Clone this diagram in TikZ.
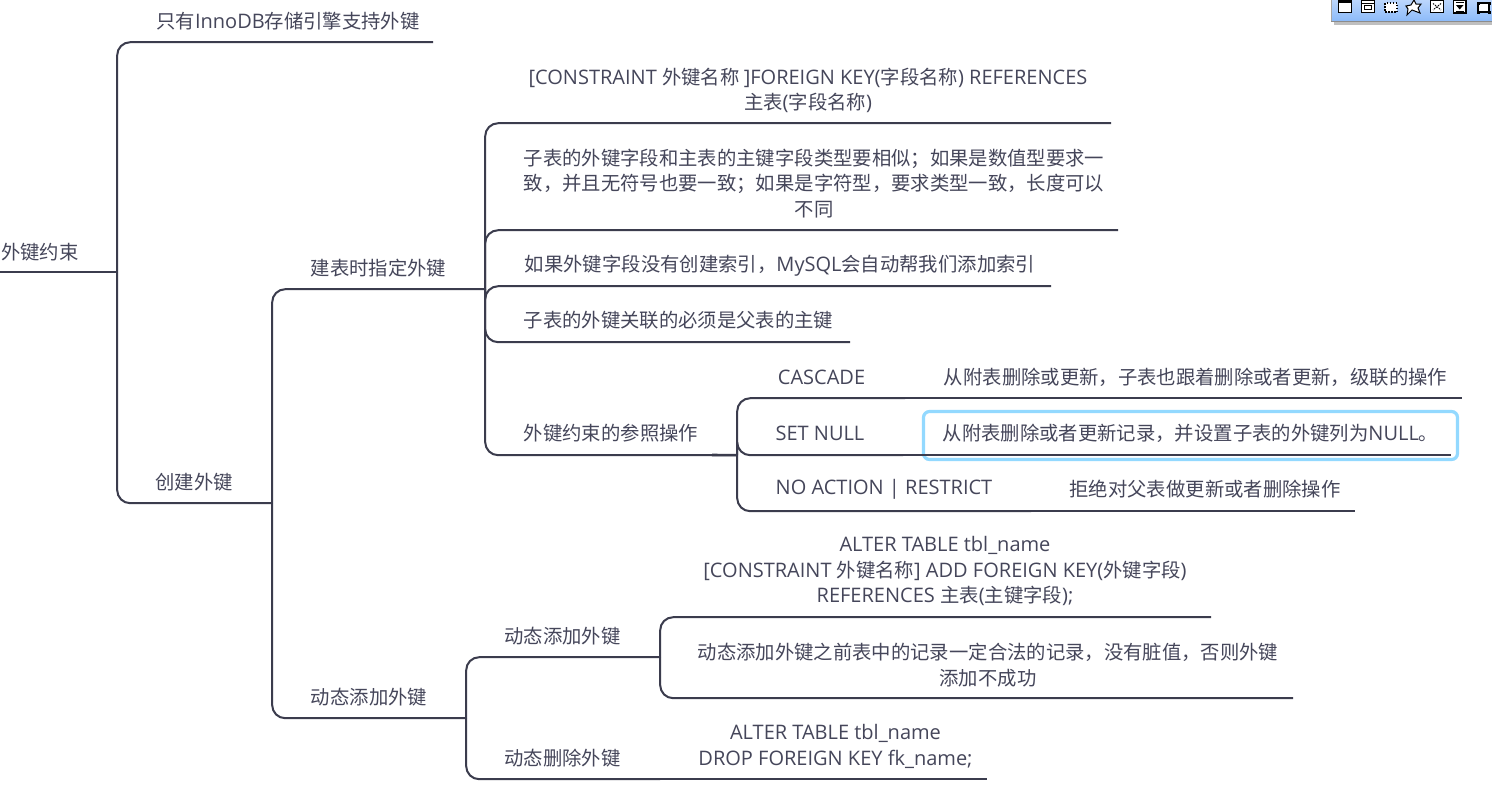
\documentclass[tikz,border=0pt]{standalone}
\usepackage{fontspec}
\setmainfont{Noto Sans CJK SC}
\newfontfamily\lafont{Open Sans}
\newcommand{\la}[1]{{\lafont\fontsize{20}{25.4}\selectfont #1}}
\definecolor{ink}{HTML}{3B3C4D}
\definecolor{txt}{HTML}{45465A}
\definecolor{hl}{HTML}{93D9FF}
\definecolor{tbTop}{HTML}{BBD6FC}
\definecolor{tbBot}{HTML}{8DBBF9}
\newcommand{\tp}[6]{%
  \pgfmathsetmacro{\tpw}{2*(#4-#2)}\pgfmathsetmacro{\tph}{2*(#5-#3)-1}%
  \node[topic,minimum width=\tpw pt,minimum height=\tph pt] (#1) at (#2,#3+0.5) {#6};}
\newcommand{\icon}[1]{\draw[black,line width=1.4pt,fill=white] (#1,0.7) rectangle (#1+13,12.7);}
\tikzset{
  topic/.style={inner sep=0pt,align=center,font=\fontsize{19.35}{25.4}\selectfont,text=txt},
  conn/.style={draw=ink,line width=2pt,rounded corners=13pt},
}
\begin{document}
\begin{tikzpicture}[x=1pt,y=-1pt]
\useasboundingbox (0,0) rectangle (1492,793);
\clip (0,0) rectangle (1492,793);
\fill[white] (0,0) rectangle (1492,793);
% highlight
\node[draw=hl,line width=3.2pt,rounded corners=6pt,minimum width=534pt,minimum height=48pt,inner sep=0pt] (focus) at (1190.5,435.5) {};
% topics
\tp{root}{40}{252}{117}{272}{外键约束}
\tp{only}{288}{21}{433}{42}{只有\la{InnoDB}存储引擎支持外键}
\tp{create}{194}{482}{272}{503}{创建外键}
\tp{bt}{378.5}{268}{485}{289}{建表时指定外键}
\tp{dyn}{369}{697}{466}{718}{动态添加外键}
\tp{fk}{808}{90}{1111}{123}{\la{[CONSTRAINT }外键名称 \la{]FOREIGN KEY(}字段名称\la{) REFERENCES}\\主表\la{(}字段名称\la{)}}
\tp{sim}{814}{183}{1118}{230}{子表的外键字段和主表的主键字段类型要相似；如果是数值型要求一\\致，并且无符号也要一致；如果是字符型，要求类型一致，长度可以\\不同}
\tp{idx}{780}{265}{1051}{286}{如果外键字段没有创建索引，\la{MySQL}会自动帮我们添加索引}
\tp{pk}{678.5}{320}{850}{342}{子表的外键关联的必须是父表的主键}
\tp{ref}{611}{433}{737}{455}{外键约束的参照操作}
\tp{cas}{821.5}{377}{905}{398}{\la{CASCADE}}
\tp{casd}{1195.5}{377}{1462}{398}{从附表删除或更新，子表也跟着删除或者更新，级联的操作}
\tp{sn}{820}{433}{903}{455}{\la{SET NULL}}
\tp{snd}{1190.5}{433}{1451}{455}{从附表删除或者更新记录，并设置子表的外键列为\la{NULL}。}
\tp{na}{884}{489}{1031}{511}{\la{NO ACTION | RESTRICT}}
\tp{nad}{1205}{489}{1355}{511}{拒绝对父表做更新或者删除操作}
\tp{add}{562.5}{636}{660}{657}{动态添加外键}
\tp{del}{562.5}{758}{660}{779}{动态删除外键}
\tp{alt}{945}{570.5}{1211}{617}{\la{ALTER TABLE tbl\_name}\\\la{{}[CONSTRAINT }外键名称\la{] ADD FOREIGN KEY(}外键字段\la{)}\\\la{REFERENCES }主表\la{(}主键字段\la{);}}
\tp{nod}{988}{664.5}{1293}{698}{动态添加外键之前表中的记录一定合法的记录，没有脏值，否则外键\\添加不成功}
\tp{dropk}{835.5}{746}{987}{779}{\la{ALTER TABLE tbl\_name}\\\la{DROP FOREIGN KEY fk\_name;}}
% connectors
\draw[conn] (root.south west) -- (root.south east);
\foreach \p/\c in {root/only,root/create,create/bt,create/dyn,bt/fk,bt/sim,bt/idx,bt/pk,bt/ref,ref/cas,ref/sn,ref/na,dyn/add,dyn/del,add/alt,add/nod}
  \draw[conn] (\p.south east) |- (\c.south east);
\foreach \p/\c in {cas/casd,sn/snd,na/nad,del/dropk}
  \draw[conn] (\p.south east) -- (\c.south east);
\draw[ink,line width=2.6pt] (712,455) -- (ref.south east);
% toolbar
\fill[black!25] (1334,20) rectangle (1492,25);
\draw[black!45,line width=1pt] (1331,21) -- (1492,21);
\shade[top color=tbTop,bottom color=tbBot] (1331.5,0) rectangle (1492,20.5);
\draw[black!35,line width=.8pt] (1331.5,0) -- (1331.5,21);
% window
\icon{1338.5}\fill[black] (1338.5,0) rectangle (1351.5,3);
% dialog
\icon{1361.5}\draw[black,line width=1pt] (1361.5,3) -- (1374.5,3);\draw[black,line width=1pt] (1364.5,5.5) rectangle (1371.5,9.5);
% dashed
\draw[black,line width=1.3pt,dash pattern=on 1.5pt off 1.5pt,fill=white] (1385,3) rectangle (1397,12);
% star
\draw[black,line width=1pt,fill=white] (1414,0) -- (1416,4) -- (1421,4) -- (1418,8) -- (1420,13) -- (1412,10) -- (1407,15) -- (1408,9) -- (1406,6) -- (1411,5) -- cycle;
% fit
\icon{1430.5}\draw[black,line width=.9pt,dash pattern=on 1.5pt off 1pt] (1433,3.5) -- (1441,10) (1441,3.5) -- (1433,10);
% page
\draw[black,line width=1.2pt,fill=white] (1453.5,0) rectangle (1466,13);\fill[black] (1456,5) -- (1463.5,5) -- (1459.7,9.5) -- cycle;\draw[black,line width=.7pt] (1455.5,2) -- (1464,2) (1455.5,11) -- (1464,11);
% handle box
\draw[black,line width=1.4pt,fill=white] (1478,3) rectangle (1489,12);
\foreach \q in {(1478,3),(1489,3),(1478,12),(1489,12)} \fill[black] \q ++(-1.5,-1.5) rectangle ++(3,3);
\end{tikzpicture}
\end{document}
